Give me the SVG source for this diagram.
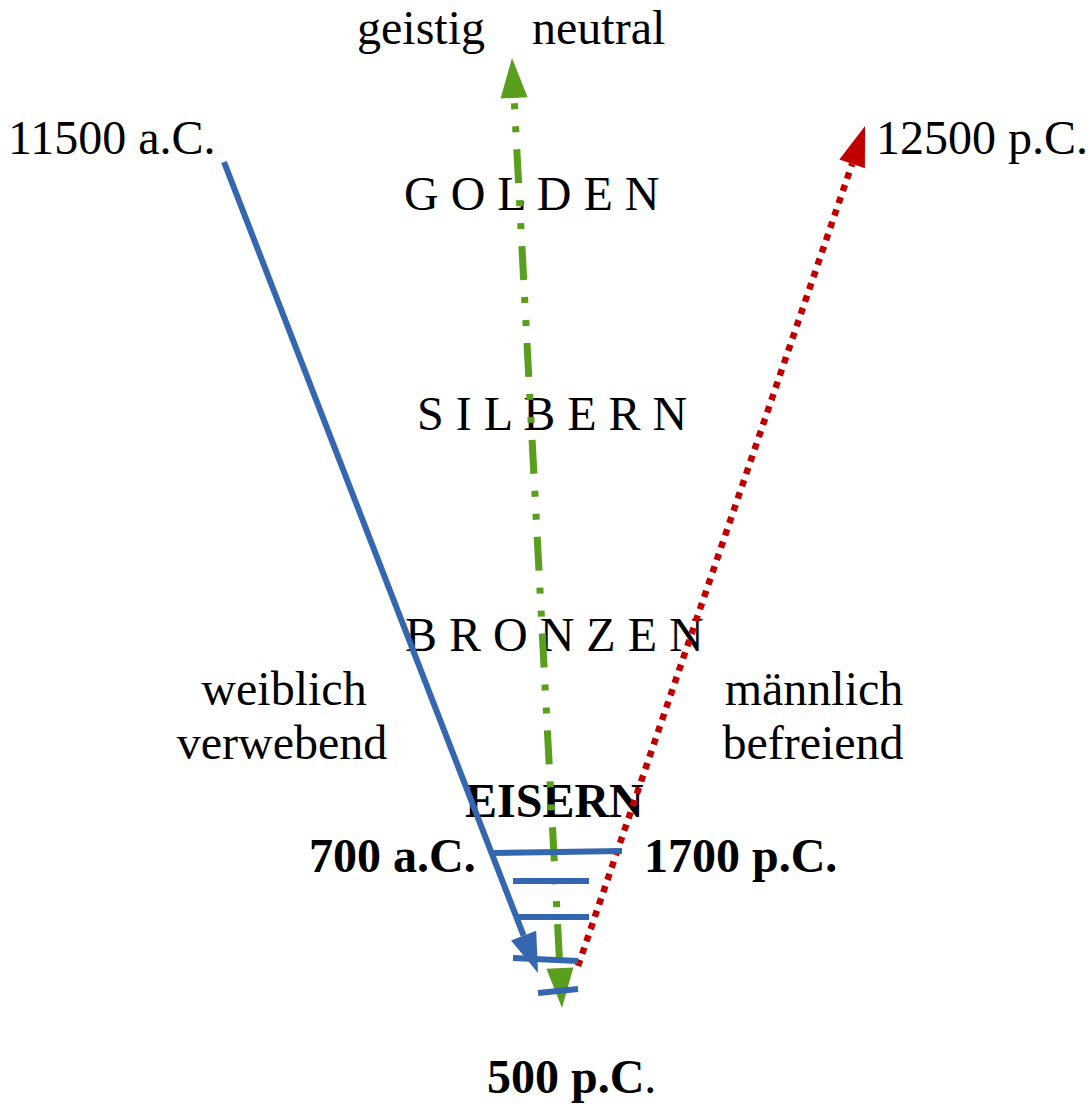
<svg xmlns="http://www.w3.org/2000/svg" width="1092" height="1104" viewBox="0 0 1092 1104">
<style>
text{font-family:"Liberation Serif","Times New Roman",serif;font-size:48px;fill:#000}
.b{font-weight:bold}
.blue{stroke:#3566B0;stroke-width:6;fill:none}
.tick{stroke:#3566B0;stroke-width:6;fill:none}
.green{stroke:#5A9E1E;stroke-width:7;fill:none;stroke-dasharray:34 17 6 17 6 17;stroke-dashoffset:45.6}
.red{stroke:#C00000;stroke-width:6.5;fill:none;stroke-dasharray:6.5 6.5}
</style>
<defs>
<marker id="ab" markerUnits="userSpaceOnUse" markerWidth="42" markerHeight="28" refX="0" refY="13.5" orient="auto" overflow="visible"><path d="M0,0 L40,13.5 L0,27 z" fill="#3566B0"/></marker>
<marker id="ag" markerUnits="userSpaceOnUse" markerWidth="42" markerHeight="28" refX="0" refY="13.5" orient="auto-start-reverse" overflow="visible"><path d="M0,0 L40,13.5 L0,27 z" fill="#5A9E1E"/></marker>
<marker id="ar" markerUnits="userSpaceOnUse" markerWidth="42" markerHeight="28" refX="0" refY="13.5" orient="auto" overflow="visible"><path d="M0,0 L40,13.5 L0,27 z" fill="#C00000"/></marker>
</defs>
<rect width="1092" height="1104" fill="#fff"/>
<g id="labels">
<g id="top-left"><text x="8" y="154">11500 a.C.</text></g>
<g id="top-right"><text x="876" y="154">12500 p.C.</text></g>
<g id="geistig"><text x="357" y="44">geistig</text></g>
<g id="neutral"><text x="532" y="44">neutral</text></g>
<g id="golden"><text x="404" y="210">G O L D E N</text></g>
<g id="silbern"><text x="417" y="430">S I L B E R N</text></g>
<g id="bronzen"><text x="405" y="651">B R O N Z E N</text></g>
<g id="weiblich"><text x="284" y="705" text-anchor="middle">weiblich</text><text x="282" y="759" text-anchor="middle">verwebend</text></g>
<g id="maennlich"><text x="814" y="705" text-anchor="middle">männlich</text><text x="813" y="759" text-anchor="middle">befreiend</text></g>
<g id="eisern"><text class="b" x="465" y="817">EISERN</text></g>
<g id="a700"><text class="b" x="309" y="872">700 a.C.</text></g>
<g id="p1700"><text class="b" x="644" y="872">1700 p.C.</text></g>
<g id="p500"><text x="487" y="1093"><tspan class="b">500 p.C</tspan>.</text></g>
</g>
<g id="connectors">
<line class="blue" x1="224" y1="162" x2="523.6" y2="935.7" marker-end="url(#ab)"/>
<line class="green" x1="514.1" y1="97.9" x2="559.9" y2="968.1" marker-start="url(#ag)" marker-end="url(#ag)"/>
<line class="red" x1="578" y1="966" x2="852.1" y2="163.9" marker-end="url(#ar)"/>
<line class="tick" x1="493" y1="853" x2="622" y2="851"/>
<line class="tick" x1="513" y1="881" x2="589" y2="881"/>
<line class="tick" x1="517" y1="917" x2="589" y2="917"/>
<line class="tick" x1="513" y1="958" x2="578" y2="961"/>
<line class="tick" x1="538" y1="993" x2="578" y2="989"/>
</g>
</svg>
